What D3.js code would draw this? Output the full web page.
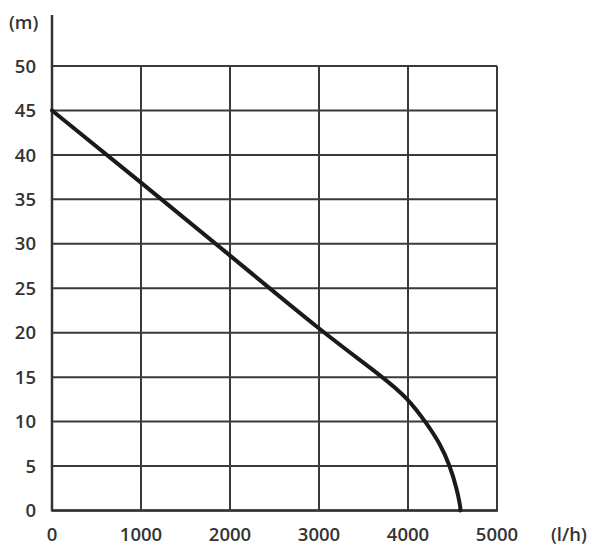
<!DOCTYPE html>
<html>
<head>
<meta charset="utf-8">
<script src="https://cdn.jsdelivr.net/npm/d3@7"></script>
<style>
  body { margin: 0; background: #fff; }
  text { font-family: "Open Sans", sans-serif; font-weight: 600; fill: #333; }
</style>
</head>
<body>
<div id="main"></div>
<script>
// pump curve: flow (l/h) vs head (m)
const flow = [0, 1000, 2000, 3045, 3722, 4000, 4195, 4362, 4472, 4547, 4586, 4590];
const head = [45, 36.9, 28.7, 20, 15, 12.6, 10, 7.5, 5, 2.5, 0.6, 0];
const xTicks = [0, 1000, 2000, 3000, 4000, 5000];
const yTicks = [0, 5, 10, 15, 20, 25, 30, 35, 40, 45, 50];

const w = 592, h = 548;
const padL = 52, padR = 497, padT = 66, padB = 510.5;

const svg = d3.select("#main").append("svg").attr("width", w).attr("height", h);

const xScale = d3.scaleLinear().domain([0, 5000]).range([padL, padR]);
const yScale = d3.scaleLinear().domain([0, 50]).range([padB, padT]);

// grid
svg.append("g")
    .selectAll("line")
    .data(yTicks)
    .enter()
    .append("line")
    .attr("x1", padL).attr("x2", padR)
    .attr("y1", d => yScale(d)).attr("y2", d => yScale(d))
    .attr("stroke", "#3a3a3a").attr("stroke-width", 2);

svg.append("g")
    .selectAll("line")
    .data(xTicks)
    .enter()
    .append("line")
    .attr("x1", d => xScale(d)).attr("x2", d => xScale(d))
    .attr("y1", padT).attr("y2", padB)
    .attr("stroke", "#3a3a3a").attr("stroke-width", 2);

// y axis line runs up past the grid
svg.append("line")
    .attr("x1", padL).attr("x2", padL)
    .attr("y1", 15).attr("y2", padB + 1)
    .attr("stroke", "#333").attr("stroke-width", 2.5);
svg.append("line")
    .attr("x1", padL).attr("x2", padR + 1)
    .attr("y1", padB).attr("y2", padB)
    .attr("stroke", "#333").attr("stroke-width", 2.5);

// tick labels
svg.append("g")
    .selectAll("text")
    .data(yTicks)
    .enter()
    .append("text")
    .attr("x", 36)
    .attr("y", d => yScale(d))
    .attr("dy", "0.36em")
    .attr("text-anchor", "end")
    .style("font-size", "18.5px")
    .text(d => d);

svg.append("g")
    .selectAll("text")
    .data(xTicks)
    .enter()
    .append("text")
    .attr("x", d => xScale(d))
    .attr("y", 541)
    .attr("text-anchor", "middle")
    .style("font-size", "18.5px")
    .text(d => d);

svg.append("text").attr("x", 9).attr("y", 29).style("font-size", "18.5px").text("(m)");
svg.append("text").attr("x", 551).attr("y", 541).style("font-size", "18.5px").text("(l/h)");

// curve, smoothed through the read points
const pts = flow.map((f, i) => [f, head[i]]);
const line = d3.line()
    .x(d => xScale(d[0]))
    .y(d => yScale(d[1]))
    .curve(d3.curveBasis);

svg.append("path")
    .datum(pts)
    .attr("d", line)
    .attr("fill", "none")
    .attr("stroke", "#1a1a1a")
    .attr("stroke-width", 4)
    .attr("stroke-linecap", "round");
</script>
</body>
</html>
